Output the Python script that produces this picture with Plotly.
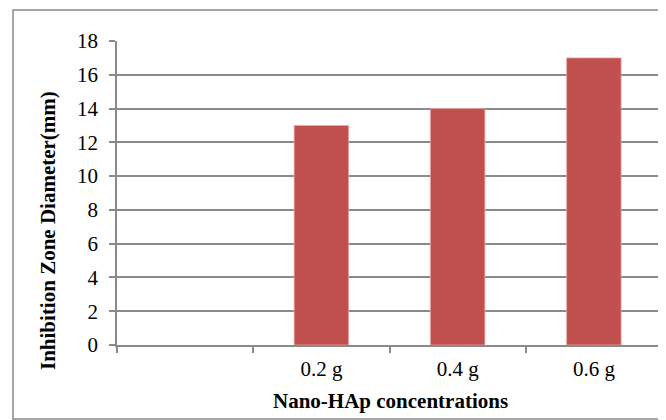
import plotly.graph_objects as go

categories = [" ", "0.2 g", "0.4 g", "0.6 g"]
values = [None, 13, 14, 17]
y_ticks = [0, 2, 4, 6, 8, 10, 12, 14, 16, 18]

FONT = "Liberation Serif, Times New Roman, serif"
GRAY = "#8a8a8a"

# page body has an 8px default margin; positions below are page pixels
OFF = 8
W, H = 666, 420
PL, PR, PT, PB = 117, 662, 41, 345  # plot area in page pixels
L = PL - OFF
T = PT - OFF
R = W - (PR - OFF)
B = H - (PB - OFF)
pw = W - L - R
ph = H - T - B

fig = go.Figure()
fig.add_trace(go.Bar(
    x=categories, y=values,
    marker=dict(color="#C0504D", line=dict(color="#e8a8a6", width=0.8)),
    width=0.4,
))

def px_x(x):
    return (x - OFF - L) / pw

def px_y(y):
    return (H - B - (y - OFF)) / ph

fig.update_layout(
    width=W, height=H,
    margin=dict(l=L, r=R, t=T, b=B),
    paper_bgcolor="white", plot_bgcolor="white",
    showlegend=False,
    font=dict(family=FONT, size=21, color="black"),
    xaxis=dict(
        type="category", categoryorder="array", categoryarray=categories,
        tickson="boundaries", ticks="outside", ticklen=6, tickwidth=1.5,
        tickcolor=GRAY, showline=True, linecolor=GRAY, linewidth=1.5,
        showgrid=False, ticklabelstandoff=4,
        tickfont=dict(family=FONT, size=21),
        fixedrange=True,
    ),
    yaxis=dict(
        range=[0, 18], tickvals=y_ticks, ticks="outside", ticklen=6,
        tickwidth=1.5, tickcolor=GRAY, showline=True, linecolor=GRAY,
        linewidth=1.5, showgrid=True, gridcolor=GRAY, gridwidth=1.5,
        zeroline=False, ticklabelstandoff=7,
        tickfont=dict(family=FONT, size=21),
        fixedrange=True,
    ),
    shapes=[dict(
        type="rect", xref="paper", yref="paper",
        x0=px_x(13), x1=px_x(662), y0=px_y(419), y1=px_y(10),
        line=dict(color=GRAY, width=1.5), fillcolor="rgba(0,0,0,0)",
        layer="below",
    )],
    annotations=[
        dict(text="<b>Nano-HAp concentrations</b>", xref="paper", yref="paper",
             x=px_x(390), y=px_y(401), xanchor="center", yanchor="middle",
             showarrow=False, font=dict(family=FONT, size=21)),
        dict(text="<b>Inhibition Zone Diameter(mm)</b>", xref="paper", yref="paper",
             x=px_x(48), y=px_y(231), xanchor="center", yanchor="middle",
             textangle=-90, showarrow=False, font=dict(family=FONT, size=21)),
    ],
)

fig.write_html("out.html")
